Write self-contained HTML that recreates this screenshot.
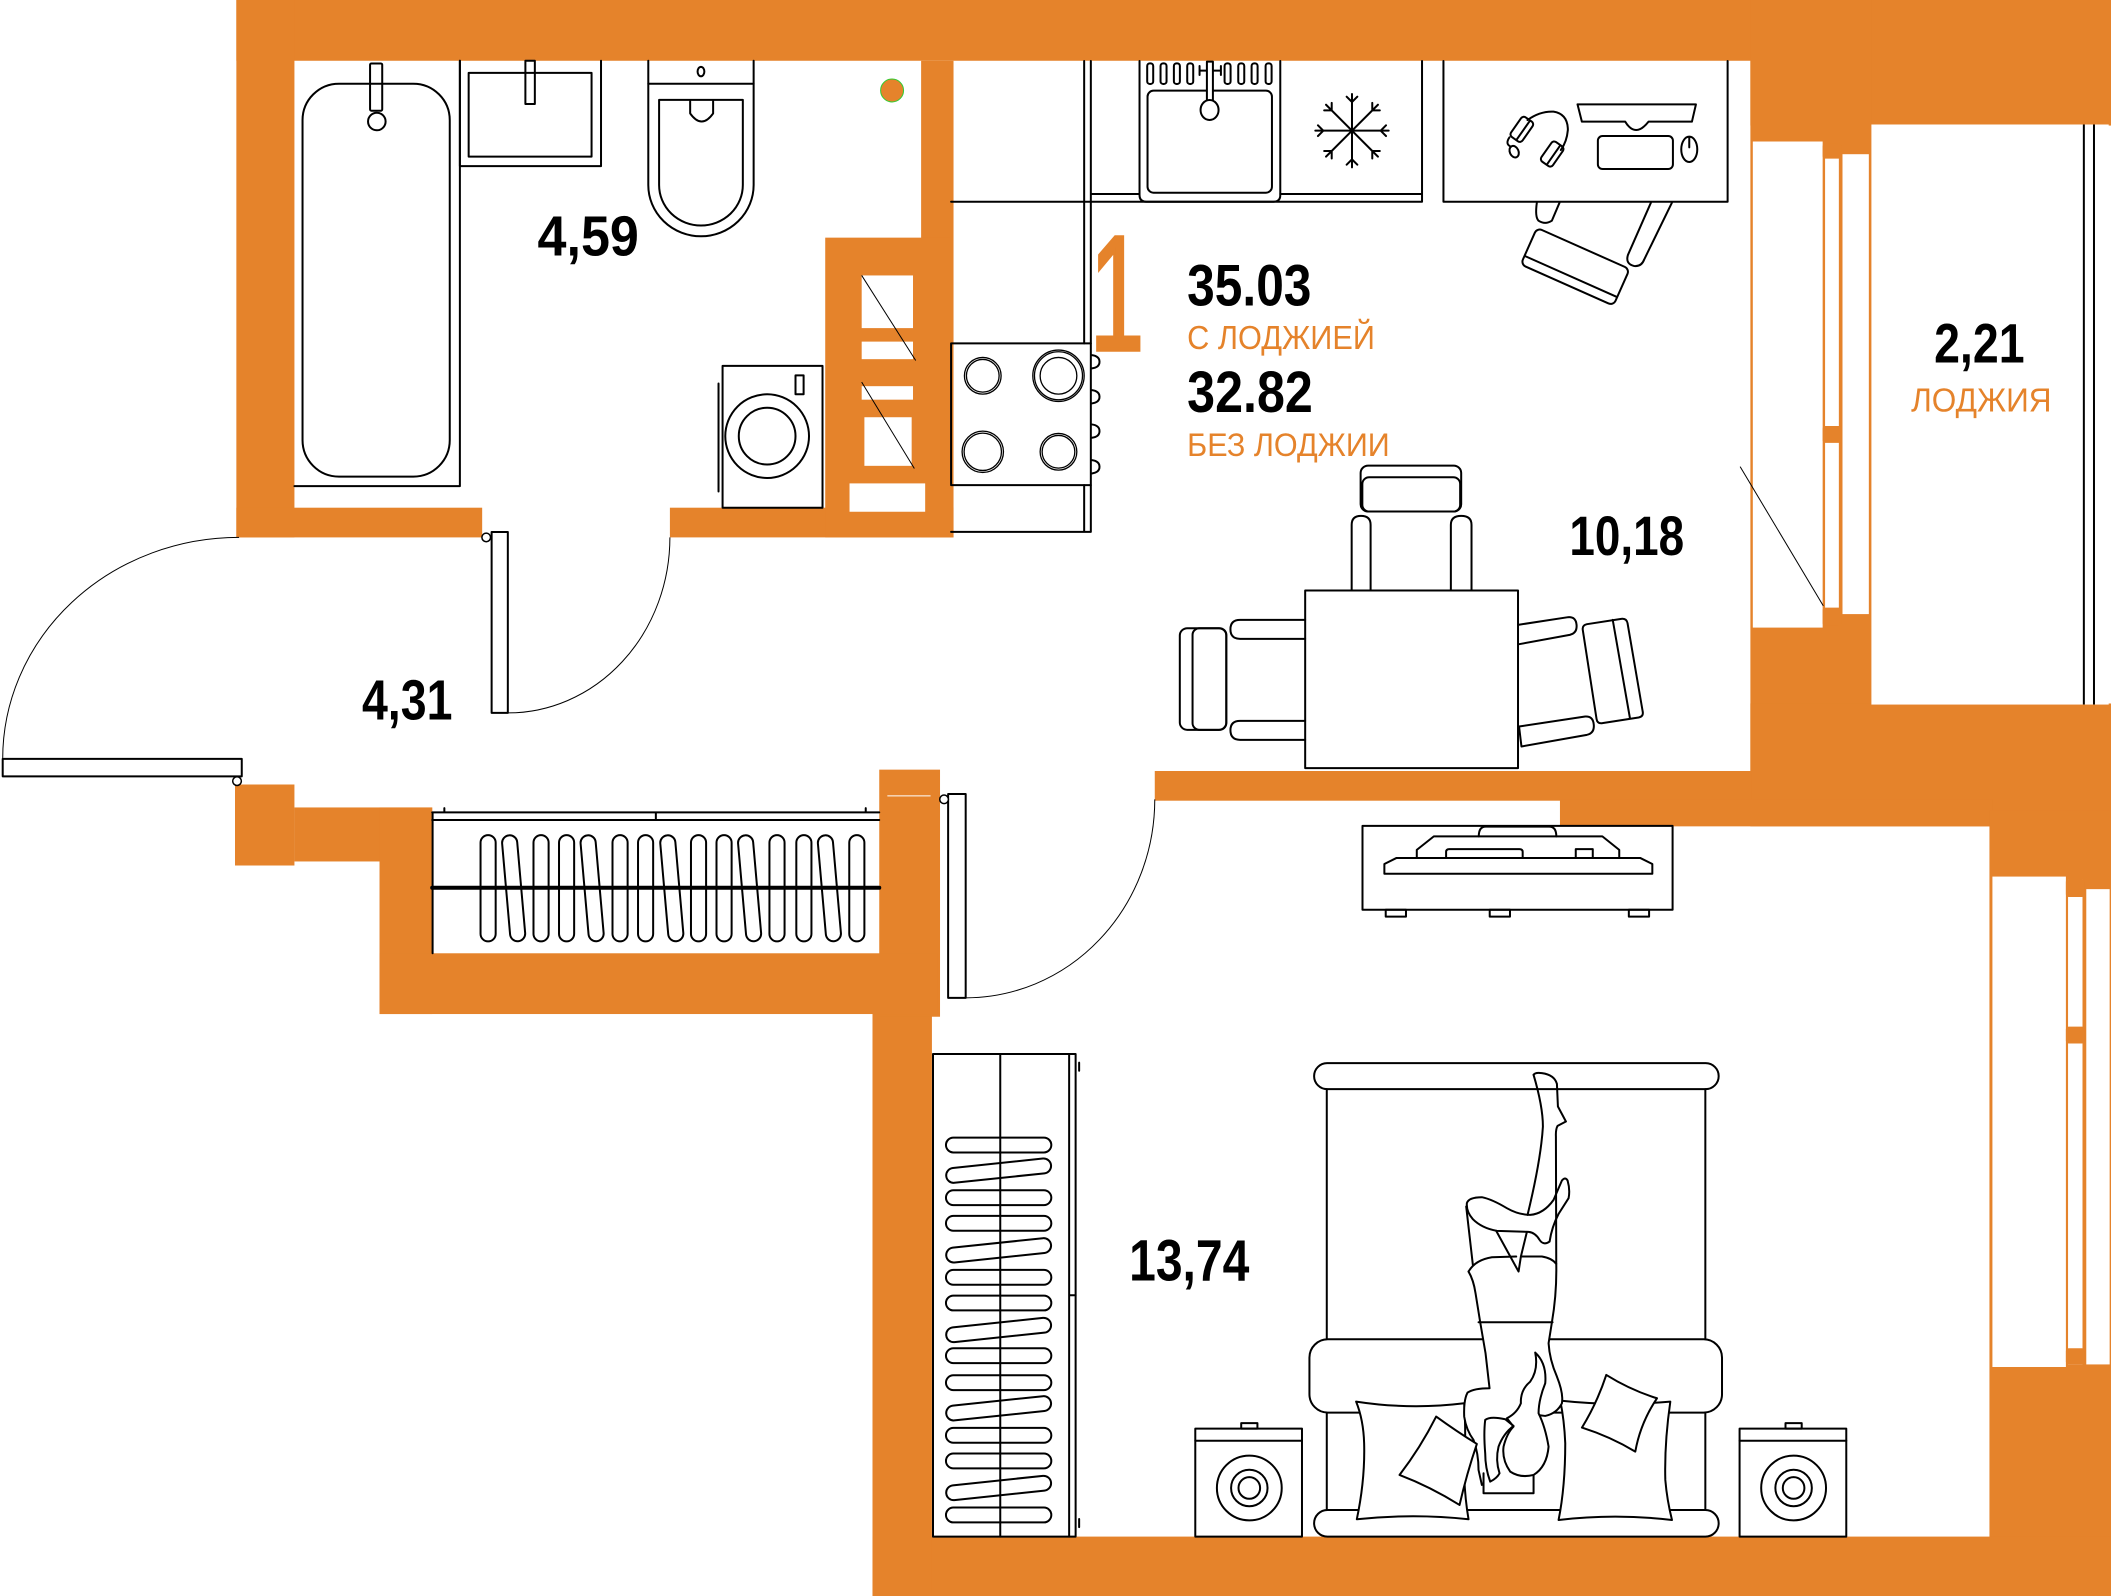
<!DOCTYPE html>
<html><head><meta charset="utf-8"><style>
html,body{margin:0;padding:0;background:#fff;}
svg{display:block;}
svg *{vector-effect:non-scaling-stroke;}
.s{fill:none;stroke:#000;stroke-width:2;stroke-linejoin:round;stroke-linecap:round;}
.w{fill:#fff;stroke:#000;stroke-width:2;stroke-linejoin:round;}
.t{stroke:#000;stroke-width:1;fill:none;}
text{font-family:"Liberation Sans",sans-serif;}
</style></head><body>
<svg width="2111" height="1596" viewBox="0 0 1563 1182" preserveAspectRatio="none" xmlns="http://www.w3.org/2000/svg">
<rect width="1563" height="1182" fill="#fff"/>
<!-- walls -->
<g fill="#E5832B">
 <rect x="175" y="0" width="1388" height="45"/>
 <rect x="175" y="0" width="43" height="398"/>
 <rect x="175" y="376" width="182" height="22"/>
 <rect x="496" y="376" width="210" height="22"/>
 <rect x="682" y="45" width="24" height="353"/>
 <rect x="611" y="176" width="93" height="222"/>
 <rect x="1296" y="0" width="267" height="93"/>
 <rect x="1296" y="0" width="90" height="572"/>
 <rect x="1296" y="521" width="267" height="91"/>
 <rect x="855" y="571" width="442" height="22"/>
 <rect x="1155" y="592" width="320" height="20"/>
 <rect x="1473" y="600" width="90" height="582"/>
 <rect x="646" y="1138" width="917" height="44"/>
 <rect x="646" y="750" width="44" height="432"/>
 <rect x="651" y="570" width="45" height="183"/>
 <rect x="174" y="581" width="44" height="60"/>
 <rect x="218" y="598" width="102" height="40"/>
 <rect x="281" y="598" width="39" height="153"/>
 <rect x="281" y="706" width="413" height="45"/>
</g>
<g fill="#fff">
 <rect x="638" y="204" width="38" height="39"/>
 <rect x="638" y="253" width="38" height="13"/>
 <rect x="638" y="286" width="38" height="10"/>
 <rect x="640" y="309" width="35" height="36"/>
 <rect x="629" y="358" width="56" height="21"/>
 <rect x="1297.8" y="104.8" width="51.7" height="360"/>
 <rect x="1351.3" y="106.7" width="10.2" height="356.5"/>
 <rect x="1364.2" y="114.2" width="19.5" height="340.6"/>
 <rect x="1385.6" y="92.2" width="175.7" height="429.6"/>
 <rect x="1475.2" y="649.2" width="54.4" height="363.2"/>
 <rect x="1531.2" y="651" width="10.7" height="359.5"/>
 <rect x="1544.7" y="658.5" width="17.3" height="352"/>
</g>
<g fill="#E5832B">
 <rect x="1349.5" y="106.5" width="14" height="11" rx="2"/>
 <rect x="1349.5" y="315.5" width="14" height="12.5" rx="2"/>
 <rect x="1349.5" y="450" width="14" height="13.5" rx="2"/>
 <rect x="1529.6" y="651" width="14" height="13.3" rx="2"/>
 <rect x="1529.6" y="760.3" width="14" height="12.5" rx="2"/>
 <rect x="1529.6" y="998.5" width="14" height="12" rx="2"/>
</g>
<line x1="657" y1="589.4" x2="689" y2="589.4" stroke="#fff" stroke-width="1"/>
<path class="t" d="M638,204 L678,267 M638,283 L677,347"/>
<circle cx="660.5" cy="67" r="8.5" fill="#E5832B" stroke="#3c3" stroke-width="1"/>
<path d="M1542.9,92.2 V521.8 M1550.4,92.2 V521.8" stroke="#000" stroke-width="2" fill="none"/>
<path class="t" d="M1288.4,345.6 L1350,448.7"/>

<!-- bathroom -->
<g class="s">
 <path d="M340.5,45 V360 H218"/>
 <rect x="224" y="62" width="109" height="291" rx="27"/>
 <rect x="274" y="47" width="9" height="35" rx="1"/>
 <circle cx="279" cy="90" r="6.5"/>
 <path d="M340.5,45 V123 H445 V45"/>
 <rect x="347" y="54" width="91" height="62"/>
 <rect x="389" y="45" width="7" height="32"/>
 <path d="M480,45 V62 H558 V45"/>
 <ellipse cx="519" cy="53" rx="2.5" ry="3.5"/>
 <path d="M480,62 V137 A39,38 0 0,0 558,137 V62"/>
 <path d="M488,74 H550 V137 A31,30 0 0,1 488,137 Z"/>
 <path d="M511,75 V84 Q519.5,96 528,84 V75"/>
 <rect x="535" y="271" width="74" height="105"/>
 <path d="M532,284 V364"/>
 <circle cx="568" cy="323" r="31"/>
 <circle cx="568" cy="323" r="21"/>
 <rect x="589" y="278" width="6" height="14"/>
</g>

<!-- kitchen -->
<g class="s" transform="translate(696.04,37.02) scale(0.24695)">
 <path d="M432,33 V880 M452,33 V880 M432,1305 V1445 M452,1305 V1445 M33,455 H1445 M452,432 H598 M1020,432 H1445 M1445,33 V455 M33,1445 H452"/>
 <rect x="33" y="880" width="419" height="425"/>
 <g style="stroke-width:1.3">
  <circle cx="128" cy="977" r="55"/><circle cx="128" cy="977" r="49"/>
  <circle cx="355" cy="977" r="77"/><circle cx="355" cy="977" r="72"/><circle cx="355" cy="977" r="55"/>
  <circle cx="128" cy="1205" r="62"/><circle cx="128" cy="1205" r="56"/>
  <circle cx="355" cy="1205" r="55"/><circle cx="355" cy="1205" r="49"/>
 </g>
 <path d="M455,915 Q478,918 478,935 Q478,952 455,955 M455,1020 Q478,1023 478,1040 Q478,1057 455,1060 M455,1123 Q478,1126 478,1143 Q478,1160 455,1163 M455,1230 Q478,1233 478,1250 Q478,1267 455,1270"/>
 <path d="M598,33 V435 Q598,455 618,455 H1000 Q1020,455 1020,435 V33"/>
 <rect x="622" y="122" width="373" height="306" rx="18"/>
 <rect x="621" y="40" width="18" height="62" rx="8"/><rect x="661" y="40" width="18" height="62" rx="8"/>
 <rect x="701" y="40" width="18" height="62" rx="8"/><rect x="741" y="40" width="18" height="62" rx="8"/>
 <rect x="853" y="40" width="18" height="62" rx="8"/><rect x="894" y="40" width="18" height="62" rx="8"/>
 <rect x="934" y="40" width="18" height="62" rx="8"/><rect x="976" y="40" width="18" height="62" rx="8"/>
 <path d="M778,48 V75 M778,62 H842 M842,48 V75"/>
 <rect x="800" y="35" width="18" height="140" fill="#fff"/>
 <ellipse cx="808" cy="180" rx="27" ry="30" fill="#fff"/>
 <g><path d="M1235,132 V352 M1219,140 L1235,156 L1251,140 M1219,344 L1235,328 L1251,344"/></g>
 <g transform="rotate(45 1235 242)"><path d="M1235,132 V352 M1219,140 L1235,156 L1251,140 M1219,344 L1235,328 L1251,344"/></g>
 <g transform="rotate(90 1235 242)"><path d="M1235,132 V352 M1219,140 L1235,156 L1251,140 M1219,344 L1235,328 L1251,344"/></g>
 <g transform="rotate(135 1235 242)"><path d="M1235,132 V352 M1219,140 L1235,156 L1251,140 M1219,344 L1235,328 L1251,344"/></g>
</g>

<!-- desk + office chair -->
<g class="s" transform="translate(1066.27,37.02) scale(0.24695)">
 <path d="M10,33 V455 H862 V33"/>
 <path d="M412,163 H767 L755,215 H625 Q605,240 588,240 Q570,240 555,215 H425 Z"/>
 <rect x="473" y="258" width="225" height="99" rx="14"/>
 <ellipse cx="747" cy="298" rx="24" ry="38"/>
 <path d="M747,262 V292"/>
 <path d="M262,210 Q300,183 340,185 Q383,192 383,240 Q380,275 362,300"/>
 <g transform="rotate(35 245 238)"><rect x="224" y="202" width="42" height="72" rx="10"/><path d="M250,204 V272"/></g>
 <g transform="rotate(35 336 312)"><rect x="315" y="276" width="42" height="72" rx="10"/><path d="M341,278 V346"/></g>
 <ellipse cx="222" cy="305" rx="13" ry="18" transform="rotate(-25 222 305)"/>
 <path d="M208,262 Q194,282 212,290"/>
 <path d="M632,458 L563,615 Q555,642 582,648 Q604,650 612,628 L695,458"/>
 <path d="M290,458 Q284,500 295,512 Q315,525 335,512 L358,458"/>
 <g transform="rotate(24 405 650)">
  <rect x="253" y="590" width="304" height="120" rx="16" fill="#fff"/>
  <path d="M255,682 H555"/>
 </g>
</g>

<!-- table + chairs -->
<g class="s" transform="translate(846,325.8) scale(0.255,0.2468)">
 <rect x="472" y="452" width="618" height="533"/>
 <rect x="633" y="77" width="292" height="138" rx="22"/>
 <rect x="638" y="112" width="284" height="103" rx="20"/>
 <path d="M607,452 V255 Q607,228 634,228 Q662,228 662,255 V452 M895,452 V255 Q895,228 925,228 Q955,228 955,255 V452"/>
 <rect x="108" y="565" width="135" height="305" rx="22"/>
 <rect x="145" y="565" width="98" height="305" rx="20"/>
 <path d="M472,540 H283 Q255,540 255,568 Q255,597 283,597 H472 M472,843 H283 Q255,843 255,871 Q255,900 283,900 H472"/>
 <path d="M1290,553 L1390,537 Q1405,535 1408,550 L1452,815 Q1455,830 1440,833 L1335,850 Q1320,852 1318,837 L1278,570 Q1276,556 1290,553 Z"/>
 <path d="M1365,540 L1415,835"/>
 <path d="M1090,555 L1235,532 Q1258,530 1260,555 Q1262,580 1240,585 L1093,613"/>
 <path d="M1093,860 L1285,830 Q1308,828 1310,855 Q1312,880 1290,885 L1100,920 L1093,860"/>
</g>

<!-- texts -->
<text x="807" y="259" font-size="121" fill="#E5832B" stroke="#E5832B" stroke-width="4" stroke-linejoin="miter" textLength="40" lengthAdjust="spacingAndGlyphs">1</text>
<text x="879" y="226.4" font-size="43" font-weight="bold" textLength="92" lengthAdjust="spacingAndGlyphs">35.03</text>
<text x="879" y="258.5" font-size="24.5" fill="#E5832B" textLength="139" lengthAdjust="spacingAndGlyphs">С ЛОДЖИЕЙ</text>
<text x="879" y="305" font-size="43" font-weight="bold" textLength="93" lengthAdjust="spacingAndGlyphs">32.82</text>
<text x="879" y="337.7" font-size="24" fill="#E5832B" textLength="150" lengthAdjust="spacingAndGlyphs">БЕЗ ЛОДЖИИ</text>
<text x="1162" y="411" font-size="41" font-weight="bold" textLength="85" lengthAdjust="spacingAndGlyphs">10,18</text>
<text x="1432" y="268.6" font-size="41" font-weight="bold" textLength="67" lengthAdjust="spacingAndGlyphs">2,21</text>
<text x="1415" y="304.7" font-size="24.5" fill="#E5832B" textLength="104" lengthAdjust="spacingAndGlyphs">ЛОДЖИЯ</text>
<text x="398" y="189.2" font-size="42" font-weight="bold" textLength="75" lengthAdjust="spacingAndGlyphs">4,59</text>
<text x="268" y="532.8" font-size="42" font-weight="bold" textLength="67" lengthAdjust="spacingAndGlyphs">4,31</text>
<text x="836" y="948.5" font-size="43" font-weight="bold" textLength="89" lengthAdjust="spacingAndGlyphs">13,74</text>

<!-- doors -->
<g class="s">
 <rect x="2" y="562" width="177" height="13" fill="#fff"/>
 <rect x="364" y="394" width="12" height="134" fill="#fff"/>
 <rect x="702" y="588" width="13" height="151" fill="#fff"/>
</g>
<g style="fill:#fff;stroke:#000;stroke-width:1.5">
 <circle cx="175.5" cy="578.5" r="3.2"/>
 <circle cx="360" cy="398" r="3.2"/>
 <circle cx="699" cy="592" r="3.2"/>
</g>
<path class="t" d="M2,562 A175,164 0 0,1 177,398 M376,528 A120,130 0 0,0 496,398 M715,739 A140,147 0 0,0 855,592"/>

<!-- corridor closet -->
<g class="s">
 <path d="M320.3,601.6 V706 M320,601.6 H651 M320,607.3 H651 M485.6,601.6 V607.3 M329,598.5 V601.6 M641,598.5 V601.6"/>
 <path d="M320,657.5 H651" style="stroke-width:4"/>
 <rect x="355.8" y="618.5" width="11.2" height="78.7" rx="5.6"/>
 <rect x="395" y="618.5" width="11.2" height="78.7" rx="5.6"/>
 <rect x="413.9" y="618.5" width="11.2" height="78.7" rx="5.6"/>
 <rect x="453.5" y="618.5" width="11.2" height="78.7" rx="5.6"/>
 <rect x="472.4" y="618.5" width="11.2" height="78.7" rx="5.6"/>
 <rect x="511.6" y="618.5" width="11.2" height="78.7" rx="5.6"/>
 <rect x="530.5" y="618.5" width="11.2" height="78.7" rx="5.6"/>
 <rect x="569.7" y="618.5" width="11.2" height="78.7" rx="5.6"/>
 <rect x="589.6" y="618.5" width="11.2" height="78.7" rx="5.6"/>
 <rect x="628.8" y="618.5" width="11.2" height="78.7" rx="5.6"/>
 <rect x="374.7" y="618.5" width="11.2" height="78.7" rx="5.6" transform="rotate(-5 380.3 657.8)"/>
 <rect x="432.8" y="618.5" width="11.2" height="78.7" rx="5.6" transform="rotate(-5 438.4 657.8)"/>
 <rect x="491.8" y="618.5" width="11.2" height="78.7" rx="5.6" transform="rotate(-5 497.4 657.8)"/>
 <rect x="549.4" y="618.5" width="11.2" height="78.7" rx="5.6" transform="rotate(-5 555 657.8)"/>
 <rect x="608.5" y="618.5" width="11.2" height="78.7" rx="5.6" transform="rotate(-5 614.1 657.8)"/>
</g>

<!-- bedroom wardrobe -->
<g class="s">
 <rect x="690.8" y="780.6" width="105.6" height="357.4"/>
 <path d="M791.6,780.6 V1138 M791.6,959.3 H796.4 M799,787 V793 M799,1125 V1131"/>
 <rect x="700.4" y="842.5" width="78" height="11" rx="5.5"/>
 <rect x="700.4" y="881.5" width="78" height="11" rx="5.5"/>
 <rect x="700.4" y="900.5" width="78" height="11" rx="5.5"/>
 <rect x="700.4" y="940.5" width="78" height="11" rx="5.5"/>
 <rect x="700.4" y="959.5" width="78" height="11" rx="5.5"/>
 <rect x="700.4" y="998.5" width="78" height="11" rx="5.5"/>
 <rect x="700.4" y="1018.5" width="78" height="11" rx="5.5"/>
 <rect x="700.4" y="1057.5" width="78" height="11" rx="5.5"/>
 <rect x="700.4" y="1076.5" width="78" height="11" rx="5.5"/>
 <rect x="700.4" y="1116.5" width="78" height="11" rx="5.5"/>
 <rect x="700.4" y="861.5" width="78" height="11" rx="5.5" transform="rotate(-6 739.4 867)"/>
 <rect x="700.4" y="920.5" width="78" height="11" rx="5.5" transform="rotate(-6 739.4 926)"/>
 <rect x="700.4" y="979.5" width="78" height="11" rx="5.5" transform="rotate(-6 739.4 985)"/>
 <rect x="700.4" y="1037.5" width="78" height="11" rx="5.5" transform="rotate(-6 739.4 1043)"/>
 <rect x="700.4" y="1096.5" width="78" height="11" rx="5.5" transform="rotate(-6 739.4 1102)"/>
 <path d="M740.6,780.6 V1138"/>
</g>

<!-- TV stand -->
<g class="s">
 <rect x="1008.8" y="611.6" width="229.6" height="62.2"/>
 <rect x="1026" y="673.8" width="15" height="5.1"/>
 <rect x="1103" y="673.8" width="15" height="5.1"/>
 <rect x="1206" y="673.8" width="15" height="5.1"/>
 <path d="M1025,639.9 L1034,635.4 H1214.4 L1223.4,639.9 V647.1 H1025 Z"/>
 <path d="M1049,635.4 V629.4 L1061.6,619.4 H1186.4 L1198.9,629.4 V635.4"/>
 <path d="M1094.9,619.4 Q1094.9,612.2 1100,612.2 H1147 Q1152.3,612.2 1152.3,619.4"/>
 <path d="M1070.7,635.4 V631 Q1070.7,628.9 1073,628.9 H1125 Q1127.4,628.9 1127.4,631 V635.4"/>
 <rect x="1166.7" y="628.9" width="12.6" height="6.5"/>
</g>

<!-- speakers -->
<g class="s">
 <rect x="885" y="1058" width="79" height="80"/>
 <path d="M885,1067 H964"/>
 <rect x="919" y="1054" width="12" height="4"/>
 <circle cx="925" cy="1102" r="24"/><circle cx="925" cy="1102" r="13.5"/><circle cx="925" cy="1102" r="8"/>
 <rect x="1288" y="1058" width="79" height="80"/>
 <path d="M1288,1067 H1367"/>
 <rect x="1322" y="1054" width="12" height="4"/>
 <circle cx="1328" cy="1102" r="24"/><circle cx="1328" cy="1102" r="13.5"/><circle cx="1328" cy="1102" r="8"/>
</g>

<!-- bed -->
<g class="s" transform="translate(962.6,784.9) scale(0.24695)">
 <rect x="42" y="10" width="1213" height="78" rx="39" fill="#fff"/>
 <path d="M80,88 V1350 M1215,88 V1350"/>
 <rect x="28" y="838" width="1237" height="220" rx="55" fill="#fff"/>
 <rect x="42" y="1350" width="1213" height="80" rx="40" fill="#fff"/>
 <path fill="#fff" d="M168,1025 Q330,1050 492,1030 Q498,1120 492,1250 Q495,1320 505,1378 Q340,1360 170,1378 Q195,1260 192,1150 Q190,1080 168,1025 Z"/>
 <path fill="#fff" d="M780,1022 Q945,1040 1110,1025 Q1092,1150 1095,1260 Q1100,1320 1115,1380 Q945,1360 775,1380 Q795,1280 795,1150 Q792,1080 780,1022 Z"/>
 <path fill="#fff" stroke="none" d="M540,787 L755,787 L745,850 Q748,900 770,950 Q790,1000 785,1030 Q770,1060 735,1068 L700,1245 L550,1300 L535,1230 Q535,1180 520,1140 Q500,1110 492,1070 Q490,1020 500,1000 Q520,985 568,985 L555,880 Z"/>
 <path d="M700,45 Q728,140 728,200 Q722,300 682,465"/>
 <path d="M700,45 Q705,37 725,40 Q762,45 770,72 L773,140 L797,185 L772,198 Q766,208 767,230 L768,610 Q770,700 755,787"/>
 <path d="M518,478 Q498,455 500,430 Q505,412 545,412 Q575,418 620,445 Q655,465 690,465 Q730,462 760,420 L785,362 Q795,350 802,362 Q810,390 805,415 L775,462 Q755,500 748,545 Q730,558 718,540 Q705,518 685,516 L590,513 Q545,505 518,478"/>
 <path d="M498,440 L518,615 M588,513 L655,635 L662,590 L680,516"/>
 <path d="M505,635 Q525,600 575,592 L648,590 M665,590 L725,590 Q755,595 768,612"/>
 <path d="M505,635 Q520,660 526,700 L540,787 M535,787 H757"/>
 <path d="M540,787 L556,880 L568,985 Q522,985 502,998 Q490,1020 492,1070 Q498,1110 520,1140 Q535,1180 535,1230 L545,1275"/>
 <path d="M755,787 L745,850 Q748,900 770,950 Q790,1000 785,1030 Q770,1060 735,1068 L718,1066"/>
 <path d="M705,878 Q740,910 735,970 Q715,1020 715,1060 Q735,1100 745,1160 Q740,1220 700,1245 Q660,1255 630,1235 Q605,1200 610,1160 Q620,1120 640,1100 L620,1075 Q650,1060 662,1030 Q660,990 690,965 Q715,930 705,878"/>
 <path d="M555,1080 Q570,1068 615,1078 L640,1098 Q610,1120 595,1160 Q585,1200 598,1240 Q590,1255 570,1265 Q555,1225 555,1180 Q550,1120 555,1080"/>
 <path d="M550,1240 V1300 H700 V1245"/>
 <path fill="#fff" d="M408,1070 Q470,1115 530,1152 Q500,1240 478,1335 Q390,1280 298,1245 Q360,1165 408,1070 Z"/>
 <path fill="#fff" d="M918,945 Q990,990 1070,1015 Q1020,1090 1005,1175 Q930,1130 845,1103 Q890,1030 918,945 Z"/>
</g>
</svg>
</body></html>
